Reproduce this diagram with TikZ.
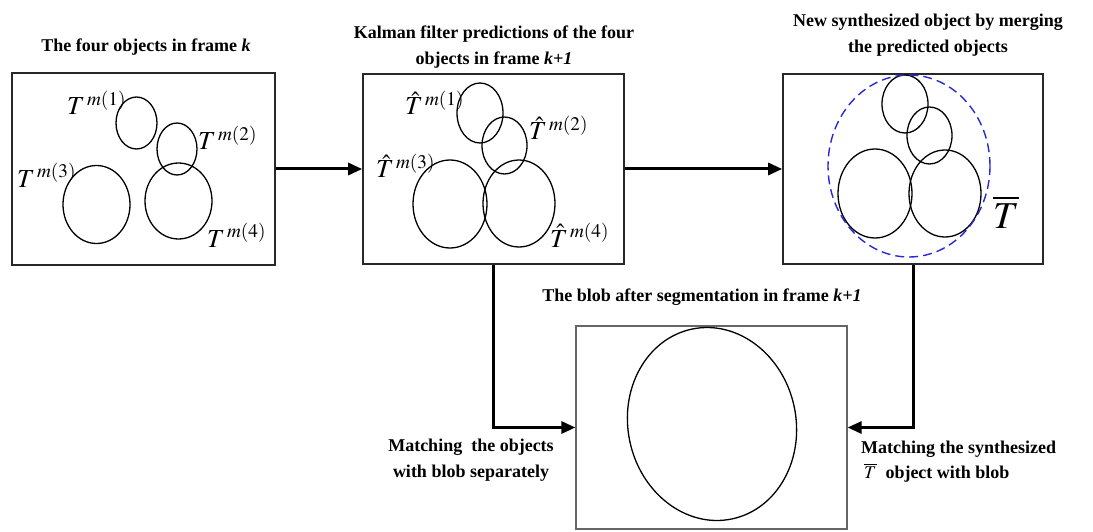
\documentclass[tikz,border=0pt]{standalone}
\usepackage{mathptmx}
\usepackage{fontspec}
\setmainfont{Liberation Serif}
\usetikzlibrary{arrows.meta,positioning}
\definecolor{mergeblue}{RGB}{40,40,215}
\definecolor{framegray}{RGB}{40,40,40}

\begin{document}
\begin{tikzpicture}[x=1pt, y=-1pt,
  frame/.style={rectangle, draw=framegray, line width=1.6pt, inner sep=0pt},
  heading/.style={font=\fontsize{18}{26}\selectfont\bfseries, align=center, inner sep=0pt},
  lab/.style={font=\fontsize{26}{30}\selectfont, inner sep=0pt, anchor=base west},
  obj/.style={line width=1.3pt},
  merged/.style={mergeblue, line width=1.4pt, dash pattern=on 9pt off 5pt},
  flow/.style={-{Triangle[length=14pt, width=12pt]}, line width=3pt},
]
  \useasboundingbox (0,0) rectangle (1093,532);

  % Frames
  \node[frame, minimum width=263pt, minimum height=192pt] (b1) at (143.5,169) {};
  \node[frame, minimum width=261pt, minimum height=190pt] (b2) at (493.5,169) {};
  \node[frame, minimum width=260pt, minimum height=190pt] (b3) at (913,169) {};
  \node[frame, draw=black!60, line width=1.2pt,
    minimum width=271pt, minimum height=203pt] (b4) at (711.5,427.5) {};

  % Headings
  \node[heading] (h1) at (146,47) {The four objects in frame \textit{k}};
  \node[heading] (h2) at (494,47) {Kalman filter predictions of the four\\objects in frame \textit{k+1}};
  \node[heading] (h3) at (928,35) {New synthesized object by merging\\the predicted objects};
  \node[heading] (h4) at (702,297) {The blob after segmentation in frame \textit{k+1}};

  % Objects in frame k
  \draw[obj] (136.5,123) ellipse [x radius=20.5, y radius=26];
  \draw[obj] (177,149) ellipse [x radius=20, y radius=26];
  \draw[obj] (96.5,204.5) ellipse [x radius=33.5, y radius=39];
  \draw[obj] (178.5,201) ellipse [x radius=33.5, y radius=38];
  \node[lab] (t1) at (67,115) {$T^{\,m(1)}$};
  \node[lab] (t2) at (198,150) {$T^{\,m(2)}$};
  \node[lab] (t3) at (17,187) {$T^{\,m(3)}$};
  \node[lab] (t4) at (207,247) {$T^{\,m(4)}$};

  % Predictions in frame k+1
  \draw[obj] (480,113) ellipse [x radius=23, y radius=30];
  \draw[obj] (504.5,145.5) ellipse [x radius=22.5, y radius=28.5];
  \draw[obj] (450,204) ellipse [x radius=37, y radius=44];
  \draw[obj] (519,203.5) ellipse [x radius=36, y radius=43.5];
  \node[lab] (p1) at (405,115) {$\hat{T}^{\,m(1)}$};
  \node[lab] (p2) at (529,140) {$\hat{T}^{\,m(2)}$};
  \node[lab] (p3) at (376,178) {$\hat{T}^{\,m(3)}$};
  \node[lab] (p4) at (550,247) {$\hat{T}^{\,m(4)}$};

  % Merged object
  \draw[obj] (905,104) ellipse [x radius=23, y radius=29];
  \draw[obj] (929.5,135.5) ellipse [x radius=22.5, y radius=28.5];
  \draw[obj] (875,193.5) ellipse [x radius=37, y radius=44.5];
  \draw[obj] (945,193.5) ellipse [x radius=36, y radius=43.5];
  \draw[merged] (909,166) ellipse [x radius=81, y radius=91];
  \node[lab, font=\fontsize{38}{42}\selectfont] (tbar) at (993,228) {$\overline{T}$};

  % Blob after segmentation
  \draw[obj, rotate around={12:(712,424)}] (712,424) ellipse [x radius=84, y radius=97];

  % Flow
  \draw[flow] (b1.east) -- (b2.west);
  \draw[flow] (b2.east) -- (b3.west);
  \draw[flow] (b2.south) |- (b4.west);
  \draw[flow] (b3.south) |- (b4.east);

  % Matching notes
  \node[heading] (m1) at (471,460) {Matching~~the objects\\with blob separately};
  \node[heading, align=left, anchor=west] (m2) at (861,462)
    {Matching the synthesized\\[-1pt]\,$\overline{T}$~~object with blob};
\end{tikzpicture}
\end{document}
